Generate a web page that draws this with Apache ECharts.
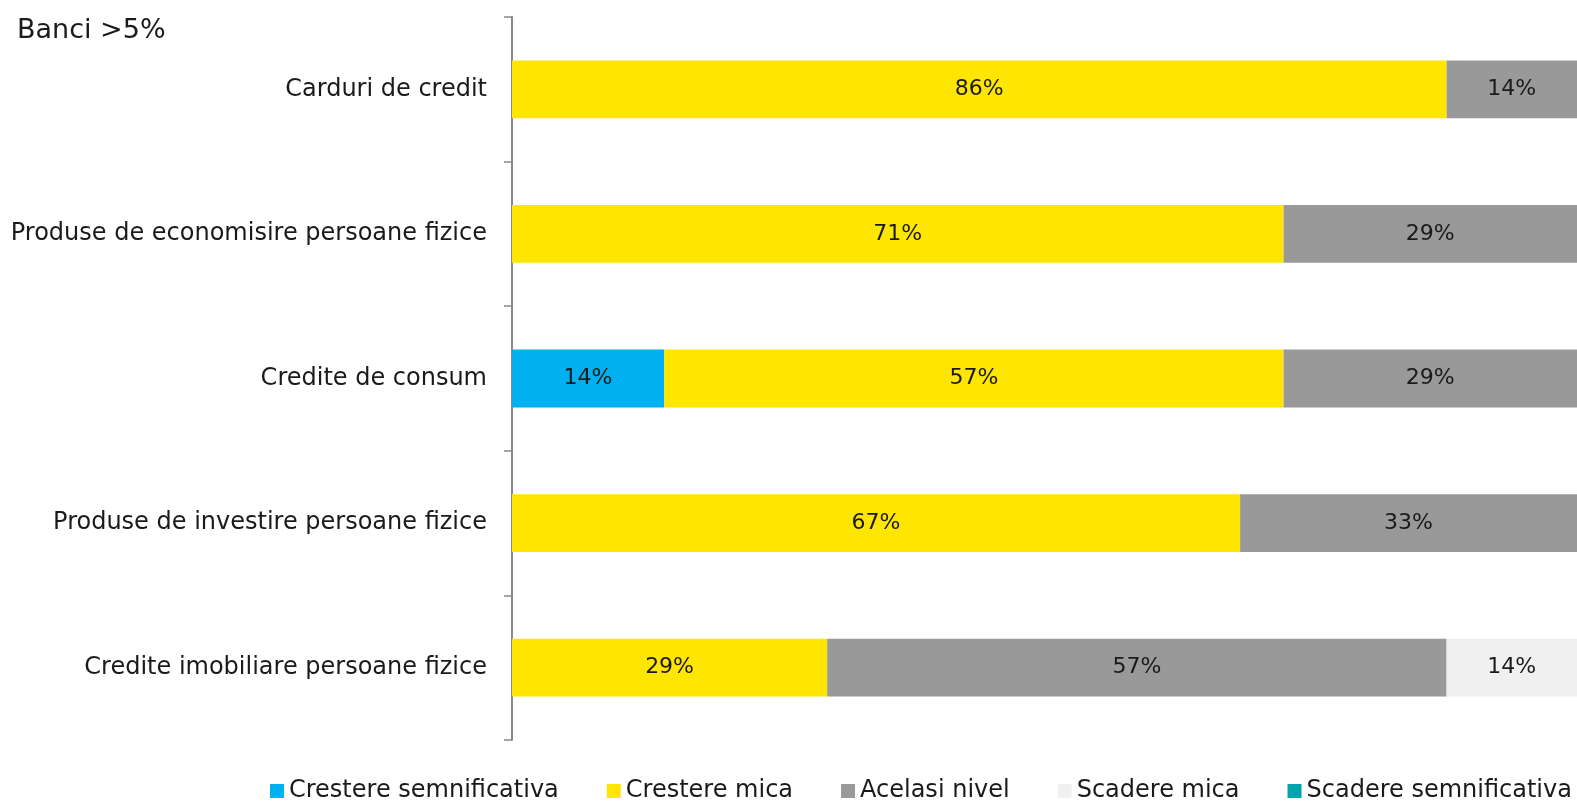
<!DOCTYPE html>
<html>
<head>
<meta charset="utf-8">
<script src="https://cdn.jsdelivr.net/npm/echarts@6/dist/echarts.min.js"></script>
<style>
    html, body { margin: 0; padding: 0; background: #fff; }
    #chart { width: 1577px; height: 804px; }
</style>
</head>
<body>
<div id="chart"></div>
<script>
var categories = [
    'Carduri de credit',
    'Produse de economisire persoane fizice',
    'Credite de consum',
    'Produse de investire persoane fizice',
    'Credite imobiliare persoane fizice'
]
var seriesNames = ['Crestere semnificativa', 'Crestere mica', 'Acelasi nivel', 'Scadere mica', 'Scadere semnificativa']
var cresterePuternica = [0, 0, 14, 0, 0]
var cresatereMica = [86, 71, 57, 67, 29]
var acelasiNivel = [14, 29, 29, 33, 57]
var scadereMica = [0, 0, 0, 0, 14]
var scaderePuternica = [0, 0, 0, 0, 0]

var colors = ['#00B0F0', '#FFE600', '#999999', '#F0F0F0', '#00A3AE']
var fontFamily = 'DejaVu Sans'
var textColor = '#1a1a1a'

var values = [cresterePuternica, cresatereMica, acelasiNivel, scadereMica, scaderePuternica]
var series = []
for (var i = 0; i < seriesNames.length; i++) {
    series.push({
        name: seriesNames[i],
        type: 'bar',
        stack: 'total',
        barWidth: '40%',
        itemStyle: { color: colors[i] },
        label: {
            show: true,
            position: 'inside',
            color: textColor,
            fontSize: 22,
            fontFamily: fontFamily,
            formatter: function(p) {
                return p.value > 0 ? p.value + '%' : ''
            }
        },
        data: values[i]
    })
}

var option = {
    animation: false,
    title: {
        text: 'Banci >5%',
        left: 12,
        top: 12,
        textStyle: { fontSize: 27, fontWeight: 'normal', color: textColor, fontFamily: fontFamily }
    },
    legend: {
        bottom: 1,
        left: 270,
        width: 1360,
        padding: 0,
        icon: 'rect',
        itemWidth: 14,
        itemHeight: 14,
        itemGap: 48,
        textStyle: { fontSize: 24, color: textColor, fontFamily: fontFamily },
        data: seriesNames
    },
    grid: {
        left: 512,
        right: 0,
        top: 17,
        bottom: 64
    },
    xAxis: {
        type: 'value',
        min: 0,
        max: 98,
        show: false
    },
    yAxis: {
        type: 'category',
        inverse: true,
        data: categories,
        axisLine: { lineStyle: { color: '#888888', width: 2 } },
        axisTick: { show: true, length: 8, lineStyle: { color: '#888888', width: 1.5 } },
        axisLabel: { margin: 25, fontSize: 24, color: textColor, fontFamily: fontFamily }
    },
    series: series
}

var myChart = echarts.init(document.getElementById('chart'))
myChart.setOption(option)
</script>
</body>
</html>
